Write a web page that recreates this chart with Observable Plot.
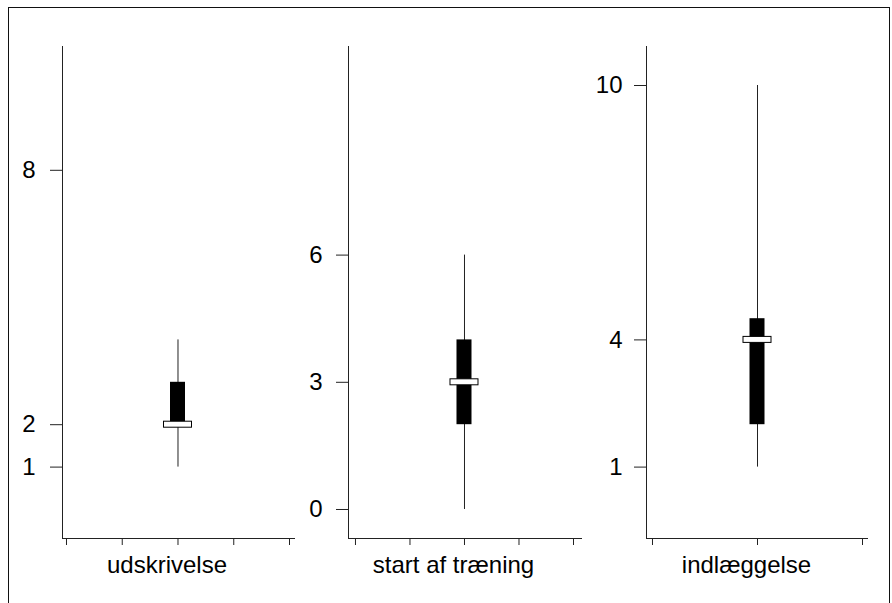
<!DOCTYPE html>
<html>
<head>
<meta charset="utf-8">
<script src="https://cdn.jsdelivr.net/npm/d3@7"></script>
<script src="https://cdn.jsdelivr.net/npm/@observablehq/plot@0.6"></script>
<style>
  html, body { margin: 0; padding: 0; background: white; }
  #wrap { position: relative; width: 892px; height: 603px; overflow: hidden; background: white; font-family: "Liberation Sans", Arial, sans-serif; }
  #frame { position: absolute; left: 8px; top: 7px; width: 882px; height: 620px; border: 1.5px solid #111; box-sizing: border-box; }
  .panel { position: absolute; top: 0; }
</style>
</head>
<body>
<div id="wrap"><div id="frame"></div></div>
<script>
// ---- data ----
const categories = ["udskrivelse", "start af træning", "indlæggelse"];
const minVals    = [1, 0, 1];
const q1Vals     = [2, 2, 2];
const medianVals = [2, 3, 4];
const q3Vals     = [3, 4, 4.5];
const maxVals    = [4, 6, 10];
const yTickLabels = [[1, 2, 8], [0, 3, 6], [1, 4, 10]];
const xTickLabels = [[0, 1, 2, 3, 4], [0, 1, 2, 3, 4], [0, 1, 2]];
const positions  = [2, 2, 1];

// ---- layout ----
const H = 603, MT = 46, MB = 65;
const yDomain = [-0.684, 10.92];
const panels = [
  {left: 0,   width: 300, ml: 62, mr: 5,  xDomain: [-0.0717, 4.1076], pad: 15},
  {left: 300, width: 292, ml: 48, mr: 10, xDomain: [-0.128, 4.165], pad: 14},
  {left: 592, width: 300, ml: 54, mr: 24, xDomain: [-0.057, 2.057], pad: 12}
];
const pxPerY = (H - MT - MB) / (yDomain[1] - yDomain[0]);
const wrap = document.getElementById("wrap");

categories.forEach((cat, i) => {
  const p = panels[i];
  const pxPerX = (p.width - p.ml - p.mr) / (p.xDomain[1] - p.xDomain[0]);
  const bw = 7.5 / pxPerX, mw = 14 / pxPerX, mh = 3 / pxPerY;
  const d = [{cat, pos: positions[i], min: minVals[i], q1: q1Vals[i], med: medianVals[i], q3: q3Vals[i], max: maxVals[i]}];
  const chart = Plot.plot({
    width: p.width, height: H,
    marginLeft: p.ml, marginRight: p.mr, marginTop: MT, marginBottom: MB,
    style: {background: "transparent", overflow: "visible", fontFamily: "'Liberation Sans', Arial, sans-serif", color: "black"},
    x: {domain: p.xDomain},
    y: {domain: yDomain},
    marks: [
      Plot.ruleX([p.xDomain[0]], {stroke: "#222", strokeWidth: 1}),
      Plot.ruleY([yDomain[0]], {stroke: "#222", strokeWidth: 1}),
      Plot.axisY({ticks: yTickLabels[i], tickSize: 12, tickPadding: p.pad, fontSize: 24, label: null, stroke: "#222"}),
      Plot.axisX({ticks: xTickLabels[i], tickSize: 7, tickFormat: () => "", label: null, stroke: "#222"}),
      Plot.ruleX(d, {x: "pos", y1: "min", y2: "max", stroke: "#222", strokeWidth: 1}),
      Plot.rect(d, {x1: r => r.pos - bw, x2: r => r.pos + bw, y1: "q1", y2: "q3", fill: "black"}),
      Plot.rect(d, {x1: r => r.pos - mw, x2: r => r.pos + mw, y1: r => r.med - mh, y2: r => r.med + mh, fill: "white", stroke: "black", strokeWidth: 1}),
      Plot.text(d, {x: "pos", text: "cat", frameAnchor: "bottom", lineAnchor: "bottom", dy: 34, dx: -11, fontSize: 24, fill: "black"})
    ]
  });
  chart.classList.add("panel");
  chart.style.left = p.left + "px";
  wrap.appendChild(chart);
});
</script>
</body>
</html>
